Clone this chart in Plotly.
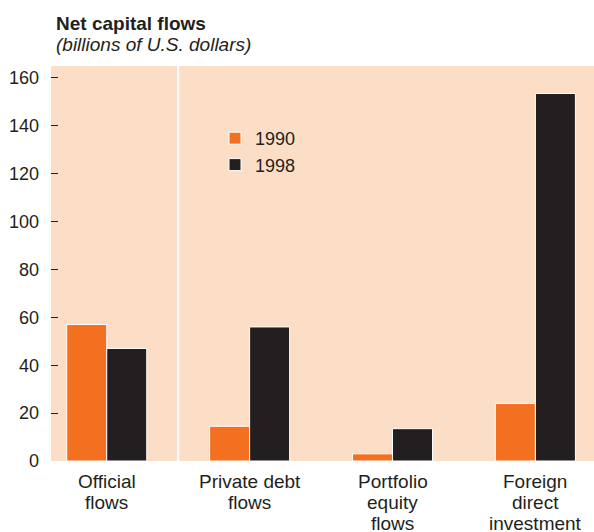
import plotly.graph_objects as go

categories = ["Official<br>flows", "Private debt<br>flows", "Portfolio<br>equity<br>flows", "Foreign<br>direct<br>investment"]
values_1990 = [57, 14.5, 3, 24]
values_1998 = [47, 56, 13.5, 153.5]
y_ticks = [0, 20, 40, 60, 80, 100, 120, 140, 160]

x_idx = list(range(len(categories)))
FONT = "Liberation Sans, Arial, sans-serif"
L, T, B, W, H = 51, 66, 71, 594, 532
PW, PH = W - L, H - T - B

fig = go.Figure()
fig.add_trace(go.Bar(x=x_idx, y=values_1990, name="1990",
                     marker=dict(color="#F37021", line=dict(color="white", width=1))))
fig.add_trace(go.Bar(x=x_idx, y=values_1998, name="1998",
                     marker=dict(color="#231F20", line=dict(color="white", width=1))))

fig.add_shape(type="line", x0=0.5, x1=0.5, y0=0, y1=1, xref="x", yref="paper",
              line=dict(color="white", width=2))

fig.update_layout(
    width=W, height=H,
    margin=dict(l=L, r=0, t=T, b=B, autoexpand=False),
    paper_bgcolor="white", plot_bgcolor="#FCDEC6",
    barmode="group", bargap=0.44, bargroupgap=0.0,
    font=dict(family=FONT, color="#231F20", size=18),
    showlegend=True,
    legend=dict(x=(215 - L) / PW, y=(461 - 120) / PH, xanchor="left", yanchor="top",
                bgcolor="rgba(0,0,0,0)", font=dict(size=18), tracegroupgap=0,
                itemwidth=30),
    xaxis=dict(range=[-0.39, 3.41], tickmode="array", tickvals=x_idx,
               showticklabels=False,
               showgrid=False, zeroline=False, showline=False, ticks="",
               automargin=False),
    yaxis=dict(range=[0, 165], tickmode="array", tickvals=y_ticks,
               showgrid=False, zeroline=False, showline=False,
               ticks="inside", ticklen=7, tickcolor="#231F20", tickwidth=1,
               tickfont=dict(size=18), ticklabelstandoff=11, automargin=False),
)

# category labels, one annotation per line for tighter line spacing
for xi, label in zip(x_idx, categories):
    for k, line in enumerate(label.split("<br>")):
        fig.add_annotation(text=line, x=xi, xref="x", y=0, yref="paper",
                           yanchor="middle", yshift=-(20 + 21 * k), showarrow=False,
                           font=dict(size=19))

fig.add_annotation(text="<b>Net capital flows</b>", xref="paper", yref="paper",
                   x=(55 - L) / PW, y=(461 - 11) / PH, xanchor="left", yanchor="top",
                   xshift=-1, showarrow=False, font=dict(size=19))
fig.add_annotation(text="<i>(billions of U.S. dollars)</i>", xref="paper", yref="paper",
                   x=(55 - L) / PW, y=(461 - 32) / PH, xanchor="left", yanchor="top",
                   xshift=-1, showarrow=False, font=dict(size=19))

fig.write_html("out.html", config={"displayModeBar": False},
               post_script="document.body.style.margin='0';")
